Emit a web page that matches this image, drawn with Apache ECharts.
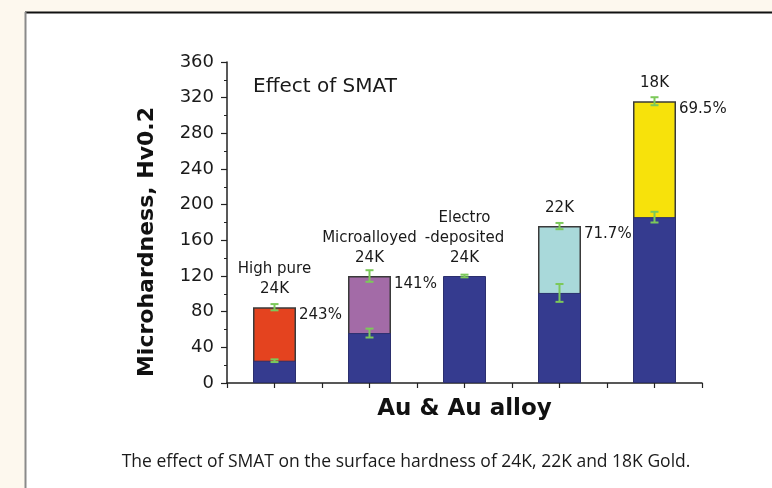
<!DOCTYPE html>
<html>
<head>
<meta charset="utf-8">
<script src="https://cdn.jsdelivr.net/npm/echarts@6/dist/echarts.min.js"></script>
<style>
html,body{margin:0;padding:0;background:#fff;}
#chart{width:772px;height:488px;}
</style>
</head>
<body>
<div id="chart"></div>
<script>
// ---- data ----
const categories = ["High pure 24K", "Microalloyed 24K", "Electro-deposited 24K", "22K", "18K"];
const asReceived = [25, 56, 120, 101, 186];
const asReceivedErr = [1.5, 5, 1.5, 10, 6];
const afterSMAT = [85, 120, null, 176, 316];
const afterSMATErr = [3.5, 6.5, null, 3.5, 4.5];
const topLabels = ["High pure\n24K", "Microalloyed\n24K", "Electro\n-deposited\n24K", "22K", "18K"];
const increaseLabels = ["243%", "141%", "", "71.7%", "69.5%"];
const smatColors = ["#e4431f", "#a36ba7", "#353b8f", "#a9d9da", "#f7e20b"];
const baseColor = "#353b8f";
const yMin = 0, yMax = 360, yStep = 40;

const chart = echarts.init(document.getElementById('chart'), null, {renderer: 'canvas'});
const FONT = "DejaVu Sans";
const BAR_W = 43;

function errorBarItem(params, api) {
  const x = api.value(0), v = api.value(1), e = api.value(2);
  const pTop = api.coord([x, v + e]);
  const pBot = api.coord([x, v - e]);
  const cw = 4;
  const st = {stroke: '#7cc95a', lineWidth: 2};
  return {
    type: 'group',
    children: [
      {type: 'line', shape: {x1: pTop[0], y1: pTop[1], x2: pBot[0], y2: pBot[1]}, style: st},
      {type: 'line', shape: {x1: pTop[0] - cw, y1: pTop[1], x2: pTop[0] + cw, y2: pTop[1]}, style: st},
      {type: 'line', shape: {x1: pBot[0] - cw, y1: pBot[1], x2: pBot[0] + cw, y2: pBot[1]}, style: st}
    ]
  };
}

function labelItem(params, api) {
  const i = params.dataIndex;
  const x = api.value(0), v = api.value(1);
  const p = api.coord([x, v]);
  const children = [{
    type: 'text',
    x: p[0], y: p[1] - 8,
    style: {text: topLabels[i], align: 'center', verticalAlign: 'bottom',
            fontFamily: FONT, fontSize: 15, lineHeight: 20, fill: '#1a1a1a'}
  }];
  if (increaseLabels[i]) {
    children.push({
      type: 'text',
      x: p[0] + BAR_W / 2 + 3, y: p[1] + 8,
      style: {text: increaseLabels[i], align: 'left', verticalAlign: 'middle',
              fontFamily: FONT, fontSize: 15, fill: '#1a1a1a'}
    });
  }
  return {type: 'group', children: children};
}

const topVals = categories.map((c, i) => afterSMAT[i] != null ? afterSMAT[i] : asReceived[i]);

const option = {
  backgroundColor: '#ffffff',
  animation: false,
  grid: {left: 227, right: 70, top: 62, bottom: 105, containLabel: false},
  xAxis: {
    type: 'value', min: -0.5, max: categories.length - 0.5, interval: 0.5,
    name: 'Au & Au alloy', nameLocation: 'middle', nameGap: 15,
    nameTextStyle: {fontFamily: FONT, fontWeight: 'bold', fontSize: 23, color: '#111'},
    axisLine: {show: true, onZero: false, lineStyle: {color: '#222', width: 1.5}},
    axisTick: {show: true, length: 5, lineStyle: {color: '#222', width: 1.2}},
    axisLabel: {show: false},
    splitLine: {show: false}
  },
  yAxis: {
    type: 'value', min: yMin, max: yMax, interval: yStep,
    axisLine: {show: true, onZero: false, lineStyle: {color: '#222', width: 1.5}},
    axisTick: {show: true, length: 6, lineStyle: {color: '#222', width: 1.2}},
    minorTick: {show: true, splitNumber: 2, length: 3, lineStyle: {color: '#222', width: 1}},
    axisLabel: {fontFamily: FONT, fontSize: 18, color: '#1a1a1a', margin: 13},
    splitLine: {show: false}
  },
  graphic: [
    {type: 'rect', shape: {x: 0, y: 0, width: 772, height: 12}, style: {fill: '#fdf8ee'}, silent: true},
    {type: 'rect', shape: {x: 0, y: 0, width: 25, height: 488}, style: {fill: '#fdf8ee'}, silent: true},
    {type: 'line', shape: {x1: 25, y1: 12.5, x2: 772, y2: 12.5}, style: {stroke: '#111', lineWidth: 2}, silent: true},
    {type: 'line', shape: {x1: 25.5, y1: 12, x2: 25.5, y2: 488}, style: {stroke: '#8a8a8a', lineWidth: 2}, silent: true},
    {type: 'text', x: 253, y: 87, style: {text: 'Effect of SMAT', fontFamily: FONT, fontSize: 20, fill: '#1a1a1a', align: 'left', verticalAlign: 'middle'}},
    {type: 'text', x: 147, y: 242, rotation: Math.PI / 2,
     style: {text: 'Microhardness, Hv0.2', fontFamily: FONT, fontWeight: 'bold', fontSize: 22, fill: '#111', align: 'center', verticalAlign: 'middle'}},
    {type: 'text', x: 406, y: 462,
     style: {text: 'The effect of SMAT on the surface hardness of 24K, 22K and 18K Gold.', fontFamily: 'Open Sans', fontSize: 17.5, fill: '#1a1a1a', align: 'center', verticalAlign: 'middle'}}
  ],
  series: [
    {
      type: 'bar', barWidth: BAR_W, z: 2,
      data: afterSMAT.map((v, i) => ({value: [i, v == null ? '-' : v], itemStyle: {color: smatColors[i]}})),
      itemStyle: {borderColor: '#3a3a3a', borderWidth: 1.5}
    },
    {
      type: 'bar', barWidth: BAR_W, barGap: '-100%', z: 3,
      data: asReceived.map((v, i) => [i, v]),
      itemStyle: {color: baseColor, borderColor: '#2b2f6e', borderWidth: 1}
    },
    {
      type: 'custom', z: 5, renderItem: errorBarItem,
      data: afterSMAT.map((v, i) => v == null ? null : [i, v, afterSMATErr[i]]).filter(d => d)
    },
    {
      type: 'custom', z: 5, renderItem: errorBarItem,
      data: asReceived.map((v, i) => [i, v, asReceivedErr[i]])
    },
    {
      type: 'custom', z: 6, renderItem: labelItem,
      data: topVals.map((v, i) => [i, v])
    }
  ]
};
chart.setOption(option);
</script>
</body>
</html>
